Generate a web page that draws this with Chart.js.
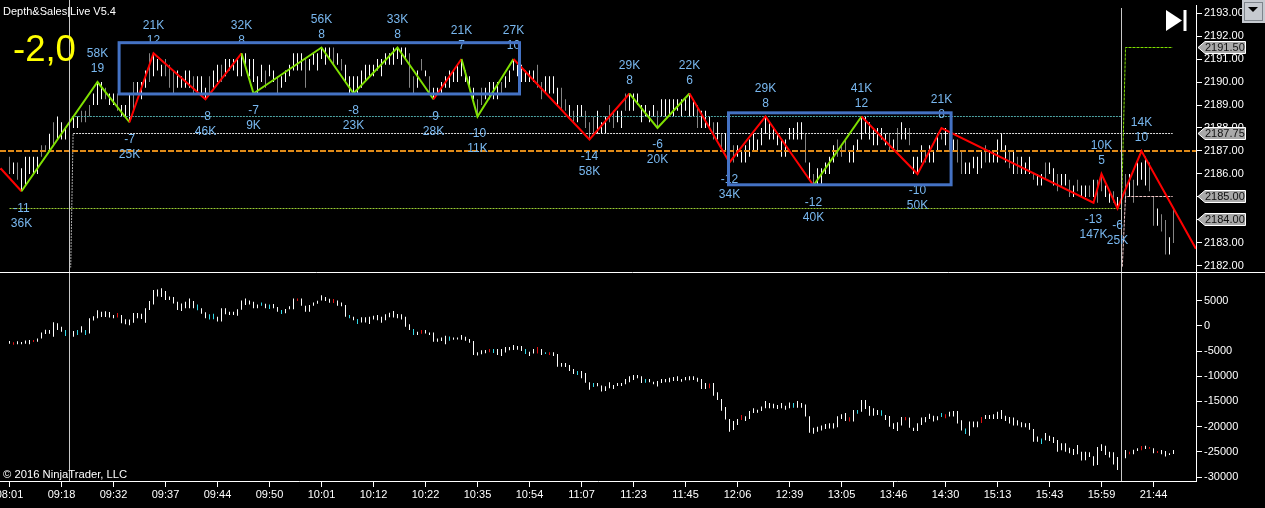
<!DOCTYPE html>
<html>
<head>
<meta charset="utf-8">
<title>Depth&amp;Sales Live V5.4</title>
<script src="https://cdn.jsdelivr.net/npm/chart.js@4"></script>
<style>
    html, body { margin: 0; padding: 0; background: #000; overflow: hidden; }
    canvas { position: absolute; left: 0; display: block; }
    #priceChart { top: 0; }
    #deltaChart { top: 273px; }
</style>
</head>
<body>
<canvas id="priceChart" width="1265" height="273"></canvas>
<canvas id="deltaChart" width="1265" height="235"></canvas>
<script>
// time axis, one label every 13 bars
const timeLabels = ["08:01","09:18","09:32","09:37","09:44","09:50","10:01","10:12","10:22","10:35","10:54","11:07","11:23","11:45","12:06","12:39","13:05","13:46","14:30","15:13","15:43","15:59","21:44"];
const priceTicks = [2182,2183,2184,2185,2186,2187,2188,2189,2190,2191,2192,2193];
const deltaTicks = [-30000,-25000,-20000,-15000,-10000,-5000,0,5000];

const priceHigh = [
    2186.75,2186.5,2186.5,2186.25,2186.75,2186.75,2186.75,2186.75,2187.25,2187.25,
    2187.75,2188.25,2188.5,2188.25,2188,2188.25,2188.5,2188.5,2188.75,2188.75,
    2189,2189.5,2190,2190,2189.75,2189.5,2189.5,2189.5,2189,2189,
    2189.5,2190,2190,2190,2190.5,2191.25,2191.25,2191,2190.75,2191,
    2190.75,2190.5,2190.5,2190.25,2190.5,2190.5,2190.25,2190.25,2190.25,2189.75,
    2190.25,2190.5,2190.75,2190.75,2191,2191,2191,2191,2191.25,2191.25,
    2191,2191,2190.25,2190.75,2190.5,2190.75,2190.5,2190.25,2190.25,2190.5,
    2190.75,2191.25,2191.25,2191.25,2191,2191,2191.25,2191.25,2191.5,2191.5,
    2191.5,2191.5,2191.25,2191,2190.75,2190.25,2190.25,2190.25,2190.5,2190.75,
    2190.75,2190.75,2191,2191,2191.25,2191.25,2191.5,2191.5,2191.5,2191.5,
    2191.25,2190.25,2190.5,2191,2190.5,2190.25,2189.75,2189.75,2190,2190.25,
    2190.5,2190.5,2190.75,2191,2190.5,2190.25,2189.75,2189.25,2189.75,2189.75,
    2190,2190,2190,2190,2190.25,2190.5,2191,2190.75,2190.75,2190.5,
    2190.5,2190.5,2190.75,2190,2190.25,2190.25,2190.25,2189.75,2189.75,2189.25,
    2189,2188.75,2189,2189,2188.75,2188.25,2188.5,2188.75,2188.25,2188.5,
    2189,2188.75,2188.75,2188.75,2189.5,2189.5,2189.5,2189.5,2189,2189,
    2188.75,2189,2188.75,2189.25,2189.25,2189.25,2189.25,2189.25,2189.25,2189.25,
    2189.5,2189.25,2189,2188.75,2188.75,2188.5,2188.25,2188.25,2187.75,2187.75,
    2187.25,2187.25,2187.25,2187,2187.25,2187.5,2187.75,2187.5,2188,2188.5,
    2188.25,2188,2187.75,2187.5,2187.5,2188,2188,2188.25,2188.25,2187.75,
    2186.5,2186,2186.25,2186.25,2186.5,2186.75,2187.25,2187.5,2187.25,2187.5,
    2187,2187.25,2187.5,2188.5,2188.5,2188.25,2188,2188,2188,2187.75,
    2187.75,2187.5,2188,2188.25,2188,2188,2186.75,2186.75,2187.25,2187,
    2187.25,2187,2187.75,2187.75,2188,2187.75,2187.5,2187.5,2187,2186.5,
    2186.5,2186.75,2186.75,2187,2187.25,2187,2187,2187.5,2187.75,2187.25,
    2187,2187,2186.75,2186.75,2186.5,2186.75,2186,2186,2186,2186.5,
    2186.5,2186.25,2186,2186,2186,2185.75,2185.5,2185.75,2185.5,2185.5,
    2185.5,2185.75,2185.75,2186,2185.5,2185.25,2185.25,2185,2185.5,2186,
    2186,2185.75,2186.5,2186.5,2186.75,2186.5,2185,2184.5,2184.25,2184,2183.25,2184.5
];
const priceLow = [
    2186,2186,2185.75,2185.25,2185.5,2186,2186,2186,2186.75,2187,
    2187,2187.25,2187.5,2187.5,2187.5,2187.75,2188,2188,2188.25,2188.25,
    2188.5,2189,2189,2189.25,2189.25,2189,2189,2188.75,2188.5,2188.5,
    2188.25,2188.75,2189.5,2189.25,2189.75,2190,2190.25,2190.5,2190.25,2190.25,
    2189.75,2189.5,2189.75,2189.75,2189.75,2189.75,2189.5,2189.5,2189.5,2189.25,
    2189.5,2189.75,2190,2190,2190.25,2190.5,2190.5,2190.25,2190.25,2190.75,
    2190.25,2190,2189.5,2190,2189.75,2190.25,2190,2189.5,2189.75,2190,
    2190.25,2190.5,2190.5,2190.5,2189.75,2190.5,2190.75,2190.5,2191,2190.75,
    2191,2190.75,2190.75,2190.5,2190,2189.5,2189.5,2189.5,2189.75,2190,
    2190.25,2190.25,2190.5,2190.25,2190.75,2190.75,2190.75,2191,2190.75,2191,
    2189.75,2189.5,2189.75,2190.5,2190.25,2189.5,2189.25,2189.5,2189.5,2189.75,
    2189.75,2190,2190,2190.25,2190,2189.75,2189.25,2188.5,2189,2189.25,
    2189.25,2189.25,2189.25,2189.5,2189.75,2190,2190.5,2190.25,2190,2190,
    2190,2190,2189.75,2189.25,2189.5,2189.5,2189.5,2189,2188.75,2188.75,
    2188.5,2188.25,2188.25,2188.5,2188,2187.5,2187.75,2187.75,2187.75,2187.75,
    2188.25,2188,2188.25,2188,2188.75,2188.75,2188.75,2189,2188.25,2188.5,
    2188.25,2188.5,2188,2188.5,2188.5,2188.5,2188.5,2188.75,2188.5,2188.75,
    2188.5,2188.5,2188,2188,2188,2188,2187.5,2187.5,2187,2187,
    2186.5,2186.5,2186.75,2186.5,2186.5,2186.75,2187,2187,2187.25,2187.75,
    2187.5,2187.5,2187.25,2186.75,2186.75,2187.5,2187.5,2187.5,2187.5,2186.5,
    2185.75,2185.5,2185.5,2185.5,2186,2186,2186.5,2186.75,2186.75,2187,
    2186.5,2186.5,2187,2187.5,2187.75,2187.5,2187.25,2187.25,2187.5,2187.25,
    2187,2187,2187,2187.5,2187.5,2187.25,2186,2186,2186.5,2186.5,
    2186.5,2186.5,2187,2187.5,2187.25,2187,2187,2186.5,2186,2186,
    2186,2186.25,2186,2186.25,2186.5,2186.5,2186.5,2186.5,2187,2186.5,
    2186.25,2186,2186,2186,2186,2186,2185.75,2185.5,2185.5,2185.75,
    2186,2185.5,2185.25,2185.5,2185.5,2185,2185,2185.25,2185,2185,
    2185,2185,2184.75,2185.25,2185,2184.75,2184.75,2184.5,2184.75,2184.75,
    2185,2184.75,2185.5,2185.75,2185.5,2185.25,2183.75,2183.75,2183.5,2182.5,2182.5,2183
];
// bars that the platform paints dimmer
const priceDimBars = [0,2,8,9,11,18,19,20,24,27,31,35,39,40,41,46,50,53,64,67,74,81,83,100,101,103,105,117,118,123,132,133,138,139,141,144,145,146,150,151,154,162,172,176,178,181,199,201,207,208,209,220,222,225,229,233,235,237,238,244,250,252,256,259,262,265,267,270,272,273,276,279,281,285,286,288,289,291];

const deltaHigh = [
    -3000,-3250,-3050,-3200,-2900,-2800,-2800,-2500,-1300,-750,
    -800,700,500,-150,-800,-1000,-1000,-800,-50,-800,
    1500,1900,3100,2800,2900,2750,2150,2550,2150,1300,
    1250,2550,2550,2400,3500,4950,7100,7200,7450,6900,
    5850,5750,4800,4450,4800,5450,4950,4250,3500,2700,
    2300,2400,1800,3500,3500,2800,2800,3300,5050,5450,
    5050,4800,4250,4650,4400,4250,4350,3750,3150,3350,
    3900,5450,5450,5450,4000,4150,4650,5000,6100,5750,
    5400,5350,5050,4650,4150,2150,1800,1350,1700,1700,
    1800,2000,2150,1800,2300,2600,2950,2350,2300,1800,
    300,-600,-1150,-800,-800,-1300,-1300,-2500,-2300,-1950,
    -2100,-2300,-2300,-1800,-2150,-2600,-3000,-5250,-4850,-4800,
    -4600,-4600,-4600,-4600,-4200,-4200,-3800,-4000,-4000,-4600,
    -5150,-4600,-4200,-4600,-5250,-5250,-5250,-5600,-7350,-7350,
    -7750,-8550,-8950,-8950,-9350,-11200,-11350,-11350,-11850,-12000,
    -11200,-11750,-11350,-11350,-10550,-10000,-9750,-9750,-10000,-10550,
    -10550,-11100,-10950,-10550,-10550,-10300,-10150,-10000,-10550,-10150,
    -10000,-10000,-10300,-10550,-11350,-11450,-11350,-13200,-14500,-16100,
    -18500,-18900,-18500,-17700,-17950,-16900,-16350,-16650,-16000,-14900,
    -15300,-15450,-15700,-15300,-15850,-15200,-15300,-14900,-15300,-15600,
    -17950,-20200,-20000,-19800,-19500,-19350,-19350,-17950,-17550,-17300,
    -18150,-16700,-16700,-14700,-14700,-15900,-16350,-16700,-16750,-17700,
    -17900,-19350,-19150,-18100,-18100,-18200,-20200,-19350,-18200,-18100,
    -17450,-17850,-17950,-17300,-17550,-17050,-16900,-16900,-18750,-20350,
    -19000,-19000,-19000,-18100,-17700,-17700,-17550,-17050,-16700,-17850,
    -18100,-18200,-18750,-19150,-19350,-19300,-20450,-21950,-22350,-21250,
    -21800,-22050,-22650,-23300,-23300,-24200,-24450,-23650,-25000,-25000,
    -25100,-25900,-24050,-23500,-23800,-25000,-25100,-26050,-25650,-24650,
    -25000,-24600,-24300,-23850,-23800,-24050,-24300,-24850,-24650,-24850,-25300,-24650
];
const deltaLow = [
    -3550,-3750,-3650,-3650,-3550,-3650,-3200,-3150,-2500,-1600,
    -1550,-2150,-800,-1150,-2000,-1950,-2150,-1800,-1300,-1800,
    -1500,1050,1500,1750,1750,1650,1500,1650,500,300,
    150,600,1500,1350,600,3150,4250,5850,5750,5150,
    5150,4450,3150,2950,3500,3500,3500,3100,2400,1500,
    1250,1300,850,850,2300,2150,2150,2000,3200,4150,
    4250,3500,3500,4000,3500,3350,3500,2800,2350,2500,
    3300,3300,4950,4000,2800,2800,4000,4400,5050,4950,
    4600,4550,4000,3900,1800,1500,1100,350,650,650,
    350,1250,1100,600,1100,1700,1650,1500,1250,-150,
    -800,-1800,-1800,-1550,-1500,-1800,-3150,-3150,-3000,-3650,
    -2950,-2750,-2700,-2750,-2950,-3350,-5800,-5900,-5650,-5450,
    -5250,-5400,-5800,-6000,-5300,-4850,-4800,-4750,-5000,-5600,
    -6000,-5500,-5500,-5800,-5600,-5800,-6000,-8100,-8100,-8150,
    -8950,-9550,-9750,-10400,-11300,-12700,-12150,-12000,-13050,-12950,
    -12400,-12550,-11950,-11950,-11600,-11200,-10750,-10400,-11350,-11300,
    -11200,-11600,-12050,-11350,-11200,-11200,-10950,-10950,-11100,-10800,
    -10800,-10750,-11100,-12550,-12550,-12400,-13850,-14700,-16850,-18600,
    -21000,-20650,-19700,-18700,-18900,-18500,-17300,-17250,-16900,-16350,
    -16350,-16350,-16500,-16350,-16650,-16350,-16250,-16250,-16250,-18000,
    -21200,-21400,-21000,-20750,-20450,-20350,-20350,-20100,-18500,-18900,
    -19000,-19000,-17450,-17050,-16500,-17850,-17850,-17700,-17850,-18700,
    -20000,-20450,-20850,-19800,-18750,-20200,-20850,-20850,-19700,-19150,
    -18500,-19000,-18750,-18100,-18350,-18000,-18000,-19400,-20750,-21450,
    -21800,-20100,-20100,-19300,-18500,-18500,-18500,-18500,-18500,-18900,
    -19400,-19800,-19800,-20100,-20100,-20600,-23000,-23000,-23450,-22700,
    -22850,-23250,-25000,-24700,-25000,-25300,-25650,-25500,-26700,-26650,
    -26050,-27750,-27600,-24850,-25650,-26150,-27500,-28600,-26300,-26300,
    -25500,-25500,-24850,-24700,-24450,-24400,-25300,-25250,-25500,-25950,-25650,-25450
];
const deltaRedBars = [1,6,27,72,81,103,120,132,135,175,183,210,224,234,243,280,283,285,287];
const deltaCyanBars = [14,17,19,47,50,51,63,65,68,85,87,101,110,121,129,134,142,146,159,196,212,218,233,239,258];

// swing lines: pivot bar, pivot price, 1 = green leg starting here, 0 = red leg
const swingBars   = [-2.25,3,22,30,36,49,58,61,78,86,97,106,113,117,126,145,155,162,170,180,189,201,213,227,233,271,273,277,283,296.6];
const swingPrices = [2186.25,2185.25,2190,2188.25,2191.25,2189.25,2191.25,2189.5,2191.5,2189.5,2191.5,2189.25,2191,2188.5,2191,2187.5,2189.5,2188,2189.5,2186.5,2188.5,2185.5,2188.5,2186,2188,2184.75,2186,2184.5,2187,2182.75];
const swingGreen  = [0,1,1,0,0,0,1,1,1,1,1,0,1,1,0,0,1,1,0,0,0,1,0,0,0,0,0,0,0];
// first entry of swingBars has no label, nor has the last
const swingTextA = ["","-11","58K","-7","21K","-8","32K","-7","56K","-8","33K","-9","21K","-10","27K","-14","29K","-6","22K","-12","29K","-12","41K","-10","21K","-13","10K","-6","14K",""];
const swingTextB = ["","36K","19","25K","12","46K","8","9K","8","23K","8","28K","7","11K","10","58K","8","20K","6","34K","8","40K","12","50K","8","147K","5","25K","10",""];

// level lines [bar, price]
const orangeBars = [-2.375,296.625],   orangePrices = [2187,2187];
const tealBars   = [15.6,278],         tealPrices   = [2188.5,2188.5];
const whiteBars  = [15.9,290.8],       whitePrices  = [2187.75,2187.75];
const limeBars   = [0,278],            limePrices   = [2184.5,2184.5];
const dropBars   = [15.9,15.3],        dropPrices   = [2187.75,2181.95];
const targetBars = [278,279,290.8],    targetPrices = [2184.5,2191.5,2191.5];
const stopBars   = [278.2,279,290.8],  stopPrices   = [2181.95,2185,2185];

// boxes: first bar, last bar, top price, bottom price
const box1 = [27.4,127.5,2191.71,2189.48];
const box2 = [179.75,235.4,2188.66,2185.53];

const flagPrices = ["2191.50","2187.75","2185.00","2184.00"];
const cursorBars = [15,278];

const font = "'Liberation Sans', Arial, sans-serif";
const idx = priceHigh.map((_, i) => i);

function noPadding(axis) {
    axis.paddingLeft = 0;
    axis.paddingRight = 0;
    axis.paddingTop = 0;
    axis.paddingBottom = 0;
}

function xAxis(showLabels) {
    return {
        type: "linear", min: -2.375, max: 296.625, offset: false,
        display: showLabels,
        grid: { display: true, offset: false, drawOnChartArea: false, drawTicks: true, tickLength: 6, tickColor: "#fff", color: "#fff" },
        border: { color: "#fff", width: 1 },
        afterBuildTicks: axis => { axis.ticks = timeLabels.map((_, i) => ({ value: i * 13 })); },
        afterFit: axis => {
            noPadding(axis);
            if (showLabels) axis.height = 27;
        },
        ticks: {
            autoSkip: false, maxRotation: 0, minRotation: 0, padding: 1,
            color: "#fff", font: { family: font, size: 11 },
            callback: (v, i) => timeLabels[i]
        }
    };
}

function yAxis(min, max, values, fmt) {
    return {
        type: "linear", position: "right", min, max,
        grid: { display: true, drawOnChartArea: false, drawTicks: true, tickLength: 6, tickColor: "#fff", color: "#fff" },
        border: { color: "#fff", width: 1 },
        afterBuildTicks: axis => { axis.ticks = values.map(v => ({ value: v })); },
        afterFit: axis => {
            noPadding(axis);
            axis.width = 69;
        },
        ticks: { padding: 2, color: "#fff", font: { family: font, size: 11 }, autoSkip: false, callback: fmt }
    };
}

function refLine(bars, prices, color, width, dash, order) {
    return {
        type: "line", snap: true, order,
        data: bars.map((b, i) => ({ x: b, y: prices[i] })),
        borderColor: color, borderWidth: width, borderDash: dash,
        pointRadius: 0, tension: 0, fill: false
    };
}

// keep level lines on a whole pixel row, the flat part is the last one
const snapLines = {
    id: "snapLines",
    beforeDatasetDraw(chart, args) {
        const ds = chart.data.datasets[args.index];
        if (!ds.snap) return;
        const last = args.meta.data[args.meta.data.length - 1];
        const target = ds.borderWidth === 2 ? Math.round(last.y) : Math.floor(last.y) + 0.5;
        chart.ctx.save();
        chart.ctx.translate(0, target - last.y);
    },
    afterDatasetDraw(chart, args) {
        if (chart.data.datasets[args.index].snap) chart.ctx.restore();
    }
};

function drawCursors(chart, tops) {
    const ctx = chart.ctx, x = chart.scales.x;
    ctx.save();
    ctx.strokeStyle = "#c8c8c8";
    ctx.lineWidth = 1;
    cursorBars.forEach((b, i) => {
        ctx.beginPath();
        ctx.moveTo(x.getPixelForValue(b), tops[i]);
        ctx.lineTo(x.getPixelForValue(b), chart.chartArea.bottom);
        ctx.stroke();
    });
    ctx.restore();
}

const priceOverlay = {
    id: "priceOverlay",
    afterDatasetsDraw(chart) {
        const ctx = chart.ctx, x = chart.scales.x, y = chart.scales.y;
        ctx.save();
        drawCursors(chart, [0, 8]);

        // swing labels, two rows above a high or below a low
        ctx.font = "12px " + font;
        ctx.fillStyle = "#79b8f0";
        ctx.textAlign = "center";
        ctx.textBaseline = "middle";
        swingBars.forEach((b, i) => {
            if (!swingTextA[i]) return;
            const px = x.getPixelForValue(b), py = y.getPixelForValue(swingPrices[i]);
            const isHigh = swingTextA[i].endsWith("K");
            ctx.fillText(swingTextA[i], px, isHigh ? py - 28 : py + 17);
            ctx.fillText(swingTextB[i], px, isHigh ? py - 13 : py + 32);
        });

        // boxes go over labels
        ctx.strokeStyle = "#4472c4";
        ctx.lineWidth = 3;
        [box1, box2].forEach(b => {
            const l = x.getPixelForValue(b[0]), r = x.getPixelForValue(b[1]);
            const t = y.getPixelForValue(b[2]), u = y.getPixelForValue(b[3]);
            ctx.strokeRect(l, t, r - l, u - t);
        });

        // header texts
        ctx.textAlign = "left";
        ctx.fillStyle = "#fff";
        ctx.font = "11px " + font;
        ctx.fillText("Depth&Sales|Live V5.4", 3, 12);
        ctx.fillStyle = "#ffff00";
        ctx.font = "36.5px " + font;
        ctx.fillText("-2,0", 13, 51);

        // skip-to-end button
        ctx.fillStyle = "#fff";
        ctx.beginPath();
        ctx.moveTo(1166, 10);
        ctx.lineTo(1182, 20.5);
        ctx.lineTo(1166, 31);
        ctx.closePath();
        ctx.fill();
        ctx.fillRect(1183.5, 10, 3, 21);

        // pane separator
        ctx.strokeStyle = "#fff";
        ctx.lineWidth = 1;
        ctx.beginPath();
        ctx.moveTo(0, 272.5);
        ctx.lineTo(1265, 272.5);
        ctx.stroke();
        ctx.restore();
    },
    afterDraw(chart) {
        const ctx = chart.ctx, y = chart.scales.y;
        ctx.save();
        // price flags on the axis
        flagPrices.forEach(p => {
            const py = Math.round(y.getPixelForValue(parseFloat(p))) - 0.5;
            ctx.beginPath();
            ctx.moveTo(1198, py);
            ctx.lineTo(1205, py - 6);
            ctx.lineTo(1245.5, py - 6);
            ctx.lineTo(1245.5, py + 6);
            ctx.lineTo(1205, py + 6);
            ctx.closePath();
            ctx.fillStyle = "#a9a9a9";
            ctx.fill();
            ctx.strokeStyle = "#fff";
            ctx.lineWidth = 1;
            ctx.stroke();
            ctx.fillStyle = "#111";
            ctx.font = "11px " + font;
            ctx.textAlign = "left";
            ctx.textBaseline = "middle";
            ctx.fillText(p, 1205, py + 0.5);
        });
        // drop-down button in the corner
        ctx.fillStyle = "#c6cad0";
        ctx.fillRect(1242, 0, 23, 23);
        ctx.strokeStyle = "#7f858c";
        ctx.strokeRect(1244.5, 2.5, 18, 18);
        ctx.fillStyle = "#000";
        ctx.beginPath();
        ctx.moveTo(1248, 7);
        ctx.lineTo(1258, 7);
        ctx.lineTo(1253, 12);
        ctx.closePath();
        ctx.fill();
        ctx.restore();
    }
};

const deltaOverlay = {
    id: "deltaOverlay",
    afterDatasetsDraw(chart) {
        const ctx = chart.ctx;
        drawCursors(chart, [0, 0]);
        ctx.save();
        ctx.fillStyle = "#fff";
        ctx.font = "11.25px " + font;
        ctx.textBaseline = "middle";
        ctx.fillText("\u00a9 2016 NinjaTrader, LLC", 3, 202);
        ctx.restore();
    }
};

const priceChart = new Chart(document.getElementById("priceChart"), {
    type: "bar",
    data: {
        datasets: [
            {
                order: 10,
                data: idx.map(i => ({ x: i, y: [priceLow[i], priceHigh[i]] })),
                backgroundColor: idx.map(i => priceDimBars.includes(i) ? "#858585" : "#ffffff"),
                barThickness: 1, inflateAmount: 0, borderWidth: 0, grouped: false
            },
            refLine(tealBars, tealPrices, "#4fa6a6", 1, [2, 1], 8),
            refLine(whiteBars, whitePrices, "#e0e0e0", 1, [2, 1], 8),
            refLine(limeBars, limePrices, "#9acd32", 1, [2, 1], 8),
            refLine(dropBars, dropPrices, "#b0b0b0", 1, [2, 1], 8),
            refLine(targetBars, targetPrices, "#7fe000", 1, [3, 1], 7),
            refLine(stopBars, stopPrices, "#f0c8c8", 1, [3, 1], 7),
            refLine(orangeBars, orangePrices, "#e08a18", 2, [6, 2], 6),
            {
                type: "line", order: 1,
                data: swingBars.map((b, i) => ({ x: b, y: swingPrices[i] })),
                borderColor: "#ff0000", borderWidth: 2, pointRadius: 0, tension: 0, fill: false,
                segment: { borderColor: c => swingGreen[c.p0DataIndex] ? "#7fe000" : "#ff0000" }
            }
        ]
    },
    options: {
        responsive: false, animation: false, devicePixelRatio: 1,
        layout: { padding: { top: 5 } },
        plugins: { legend: { display: false }, tooltip: { enabled: false } },
        scales: {
            x: xAxis(false),
            y: yAxis(2181.694, 2193.349, priceTicks, v => v.toFixed(2))
        }
    },
    plugins: [snapLines, priceOverlay]
});

const deltaChart = new Chart(document.getElementById("deltaChart"), {
    type: "bar",
    data: {
        datasets: [{
            data: idx.map(i => ({ x: i, y: [deltaLow[i], deltaHigh[i]] })),
            backgroundColor: idx.map(i => deltaRedBars.includes(i) ? "#e01010" : deltaCyanBars.includes(i) ? "#30d8e8" : "#ffffff"),
            barThickness: 1, inflateAmount: 0, borderWidth: 0, grouped: false
        }]
    },
    options: {
        responsive: false, animation: false, devicePixelRatio: 1,
        plugins: { legend: { display: false }, tooltip: { enabled: false } },
        scales: {
            x: xAxis(true),
            y: yAxis(-30794, 10498, deltaTicks, v => String(v))
        }
    },
    plugins: [deltaOverlay]
});
</script>
</body>
</html>
